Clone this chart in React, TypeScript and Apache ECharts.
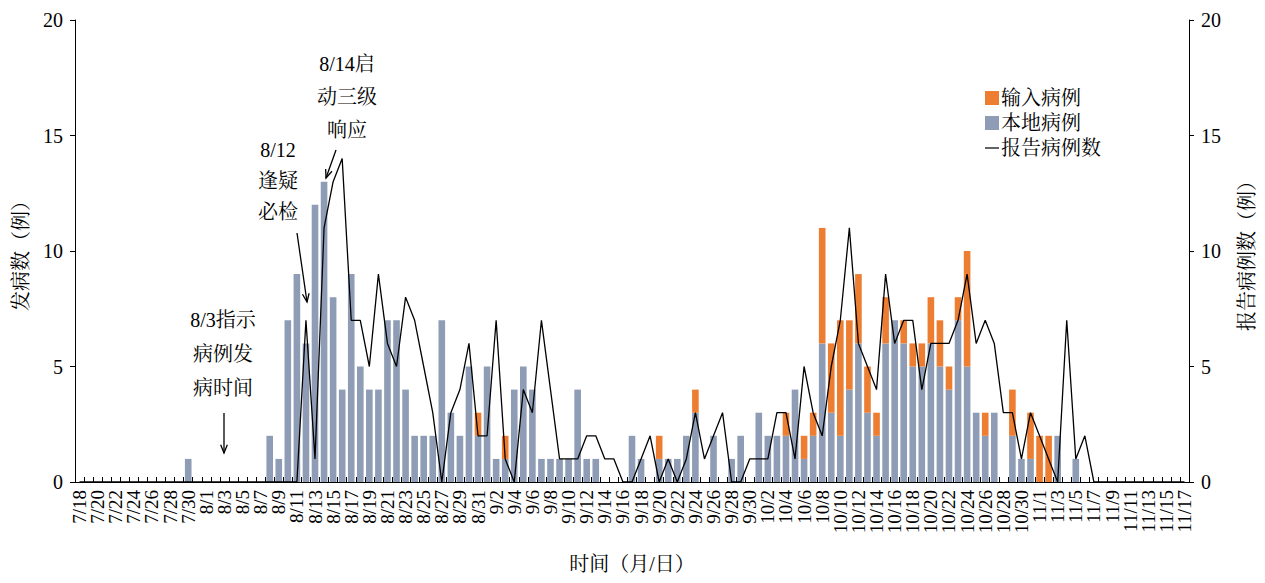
import React, { useEffect, useRef } from "react";
import * as echarts from "echarts";

// ---- categories (7/18 .. 11/17) ----
const monthSpans: [number, number, number][] = [
  [7, 18, 31],
  [8, 1, 31],
  [9, 1, 30],
  [10, 1, 31],
  [11, 1, 17],
];
const dates: string[] = [];
monthSpans.forEach(([m, s, e]) => {
  for (let d = s; d <= e; d++) dates.push(`${m}/${d}`);
});

// ---- series values ----
const localJul = [0, 0, 0, 0, 0, 0, 0, 0, 0, 0, 0, 0, 1, 0];
const localAug = [0, 0, 0, 0, 0, 0, 0, 2, 1, 7, 9, 6, 12, 13, 8, 4, 9, 5, 4, 4, 7, 7, 4, 2, 2, 2, 7, 3, 2, 5, 2];
const localSep = [5, 1, 1, 4, 5, 4, 1, 1, 1, 1, 4, 1, 1, 0, 0, 0, 2, 1, 0, 1, 1, 1, 2, 3, 0, 2, 0, 1, 2, 0];
const localOct = [3, 2, 2, 2, 4, 1, 2, 6, 3, 2, 4, 6, 3, 2, 6, 7, 6, 5, 5, 6, 5, 4, 7, 5, 3, 2, 3, 0, 2, 1, 1];
const localNov = [0, 0, 2, 0, 1, 0, 0, 0, 0, 0, 0, 0, 0, 0, 0, 0, 0];

const importJul = [0, 0, 0, 0, 0, 0, 0, 0, 0, 0, 0, 0, 0, 0];
const importAug = [0, 0, 0, 0, 0, 0, 0, 0, 0, 0, 0, 0, 0, 0, 0, 0, 0, 0, 0, 0, 0, 0, 0, 0, 0, 0, 0, 0, 0, 0, 1];
const importSep = [0, 0, 1, 0, 0, 0, 0, 0, 0, 0, 0, 0, 0, 0, 0, 0, 0, 0, 0, 1, 0, 0, 0, 1, 0, 0, 0, 0, 0, 0];
const importOct = [0, 0, 0, 1, 0, 1, 1, 5, 3, 5, 3, 3, 2, 1, 2, 0, 1, 1, 1, 2, 2, 1, 1, 5, 0, 1, 0, 0, 2, 0, 2];
const importNov = [2, 2, 0, 0, 0, 0, 0, 0, 0, 0, 0, 0, 0, 0, 0, 0, 0];

const reportJul = [0, 0, 0, 0, 0, 0, 0, 0, 0, 0, 0, 0, 0, 0];
const reportAug = [0, 0, 0, 0, 0, 0, 0, 0, 0, 0, 0, 7, 1, 11, 13, 14, 7, 7, 5, 9, 6, 5, 8, 7, 5, 3, 0, 3, 4, 6, 2];
const reportSep = [2, 7, 1, 0, 4, 3, 7, 4, 1, 1, 1, 2, 2, 1, 1, 0, 0, 1, 2, 0, 1, 0, 1, 3, 1, 2, 3, 0, 0, 1];
const reportOct = [1, 1, 3, 3, 1, 5, 3, 2, 5, 7, 11, 6, 5, 4, 9, 6, 7, 7, 4, 6, 6, 6, 7, 9, 6, 7, 6, 3, 3, 1, 3];
const reportNov = [2, 1, 0, 7, 1, 2, 0, 0, 0, 0, 0, 0, 0, 0, 0, 0, 0];

const localCases = [...localJul, ...localAug, ...localSep, ...localOct, ...localNov];
const importedCases = [...importJul, ...importAug, ...importSep, ...importOct, ...importNov];
const reportedCases = [...reportJul, ...reportAug, ...reportSep, ...reportOct, ...reportNov];

const yTicks = [0, 5, 10, 15, 20];

const FONT = "'Liberation Serif', 'Times New Roman', 'Noto Serif CJK SC', 'Noto Sans CJK SC', serif";
const ORANGE = "#ED7D31";
const GRAY = "#8E9DB5";

function arrow(x1: number, y1: number, x2: number, y2: number) {
  const ang = Math.atan2(y2 - y1, x2 - x1);
  const len = 9;
  const spread = 0.38;
  const a1 = ang + Math.PI - spread;
  const a2 = ang + Math.PI + spread;
  return [
    {
      type: "line",
      shape: { x1, y1, x2, y2 },
      style: { stroke: "#000", lineWidth: 1.3 },
      silent: true,
    },
    {
      type: "polyline",
      shape: {
        points: [
          [x2 + len * Math.cos(a1), y2 + len * Math.sin(a1)],
          [x2, y2],
          [x2 + len * Math.cos(a2), y2 + len * Math.sin(a2)],
        ],
      },
      style: { stroke: "#000", lineWidth: 1.3, fill: null },
      silent: true,
    },
  ];
}

function note(text: string, x: number, y: number, lh: number) {
  return {
    type: "text",
    x,
    y,
    silent: true,
    style: {
      text,
      fontFamily: FONT,
      fontSize: 20,
      lineHeight: lh,
      fill: "#000",
      align: "center",
      verticalAlign: "middle",
    },
  };
}

export default function App() {
  const ref = useRef<HTMLDivElement>(null);
  useEffect(() => {
    if (!ref.current) return;
    const chart = echarts.init(ref.current, undefined, { renderer: "svg" });
    const axisText = { color: "#000", fontFamily: FONT, fontSize: 20 };
    const yAxisBase = {
      type: "value",
      min: yTicks[0],
      max: yTicks[yTicks.length - 1],
      interval: 5,
      nameLocation: "middle",
      nameRotate: 90,
      nameTextStyle: { ...axisText },
      axisLine: { show: true, lineStyle: { color: "#000", width: 1 } },
      axisTick: { show: true, inside: false, length: 5, lineStyle: { color: "#000" } },
      splitLine: { show: false },
      axisLabel: { ...axisText, margin: 12 },
    };
    chart.setOption({
      animation: false,
      backgroundColor: "#fff",
      textStyle: { fontFamily: FONT },
      grid: { left: 75, right: 75, top: 20, bottom: 101, containLabel: false },
      legend: {
        orient: "vertical",
        left: 980,
        top: 83,
        itemWidth: 14,
        itemHeight: 14,
        itemGap: 5,
        textStyle: { color: "#000", fontFamily: FONT, fontSize: 20, padding: [0, 0, 0, -3] },
        data: [
          { name: "输入病例", icon: "rect" },
          { name: "本地病例", icon: "rect" },
          { name: "报告病例数", icon: "path://M0,0 L16,0 L16,1.4 L0,1.4 Z" },
        ],
      },
      xAxis: {
        type: "category",
        data: dates,
        boundaryGap: true,
        name: "时间（月/日）",
        nameLocation: "middle",
        nameGap: 72,
        nameTextStyle: { ...axisText },
        axisLine: { show: true, lineStyle: { color: "#000", width: 1.2 } },
        axisTick: { show: true, inside: true, length: 5, interval: 0, lineStyle: { color: "#000" } },
        axisLabel: {
          ...axisText,
          fontSize: 19,
          rotate: 90,
          interval: 0,
          formatter: (value: string, index: number) => (index % 2 === 0 ? value : ""),
          margin: 8,
          hideOverlap: false,
        },
        splitLine: { show: false },
      },
      yAxis: [
        { ...yAxisBase, position: "left", name: "发病数（例）", nameGap: 44 },
        { ...yAxisBase, position: "right", name: "报告病例数（例）", nameGap: 48 },
      ],
      series: [
        {
          name: "本地病例",
          type: "bar",
          stack: "cases",
          data: localCases,
          itemStyle: { color: GRAY },
          barCategoryGap: "27%",
          yAxisIndex: 0,
        },
        {
          name: "输入病例",
          type: "bar",
          stack: "cases",
          data: importedCases,
          itemStyle: { color: ORANGE },
          barCategoryGap: "27%",
          yAxisIndex: 0,
        },
        {
          name: "报告病例数",
          type: "line",
          data: reportedCases,
          yAxisIndex: 1,
          symbol: "none",
          showSymbol: false,
          itemStyle: { color: "#000" },
          lineStyle: { color: "#000", width: 1.3 },
          z: 5,
        },
      ],
      graphic: [
        note("8/3指示\n病例发\n病时间", 223, 354, 34),
        ...arrow(224, 413, 224, 453),
        note("8/12\n逢疑\n必检", 278, 181, 31),
        ...arrow(297, 233, 307, 302),
        note("8/14启\n动三级\n响应", 347, 97, 33),
        ...arrow(336, 150, 326, 178),
      ],
    });
    return () => chart.dispose();
  }, []);
  return (
    <div
      ref={ref}
      style={{ position: "absolute", left: 0, top: 0, width: 1265, height: 583, background: "#fff" }}
    />
  );
}
